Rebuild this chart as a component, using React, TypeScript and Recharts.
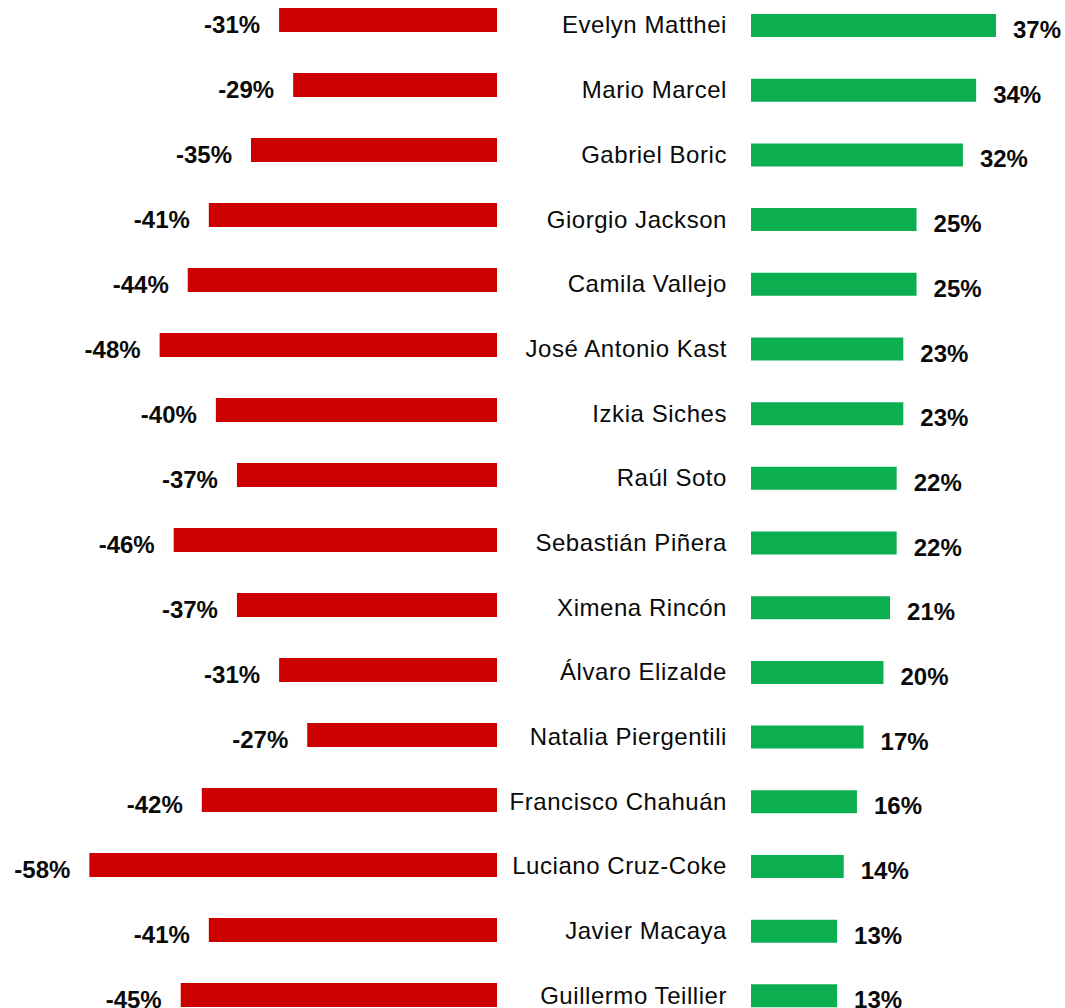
import React from "react";
import { BarChart, Bar, XAxis, YAxis, LabelList } from "recharts";

const names = [
  "Evelyn Matthei",
  "Mario Marcel",
  "Gabriel Boric",
  "Giorgio Jackson",
  "Camila Vallejo",
  "José Antonio Kast",
  "Izkia Siches",
  "Raúl Soto",
  "Sebastián Piñera",
  "Ximena Rincón",
  "Álvaro Elizalde",
  "Natalia Piergentili",
  "Francisco Chahuán",
  "Luciano Cruz-Coke",
  "Javier Macaya",
  "Guillermo Teillier",
];
const negativeValues = [-31, -29, -35, -41, -44, -48, -40, -37, -46, -37, -31, -27, -42, -58, -41, -45];
const positiveValues = [37, 34, 32, 25, 25, 23, 23, 22, 22, 21, 20, 17, 16, 14, 13, 13];

const leftData = names.map((name, i) => ({ name, value: negativeValues[i] }));
const rightData = names.map((name, i) => ({ name, value: positiveValues[i] }));

const FONT = "'Liberation Sans', Arial, Helvetica, sans-serif";

function getBox(props: any) {
  const vb = props.viewBox || {};
  const x = typeof props.x === "number" ? props.x : vb.x;
  const y = typeof props.y === "number" ? props.y : vb.y;
  const width = typeof props.width === "number" ? props.width : vb.width;
  const height = typeof props.height === "number" ? props.height : vb.height;
  return { x: Number(x), y: Number(y), width: Number(width), height: Number(height) };
}

const RedLabel = (props: any) => {
  const { x, y, width, height } = getBox(props);
  const left = Math.min(x, x + width);
  const cy = y + height / 2;
  return (
    <text
      x={left - 19}
      y={cy + 12.5}
      textAnchor="end"
      fontFamily={FONT}
      fontWeight="bold"
      fontSize={24}
      fill="#0a0a0a"
    >
      {`${props.value}%`}
    </text>
  );
};

const GreenLabel = (props: any) => {
  const { x, y, width, height } = getBox(props);
  const right = Math.max(x, x + width);
  const cy = y + height / 2;
  return (
    <text
      x={right + 17}
      y={cy + 12.6}
      textAnchor="start"
      fontFamily={FONT}
      fontWeight="bold"
      fontSize={24}
      fill="#0a0a0a"
    >
      {`${props.value}%`}
    </text>
  );
};

const NameTick = (props: any) => {
  const { x, y, payload } = props;
  return (
    <text
      x={x}
      y={y + 8.1}
      textAnchor="end"
      fontFamily={FONT}
      fontSize={24}
      letterSpacing={0.55}
      fill="#0a0a0a"
    >
      {payload.value}
    </text>
  );
};

export default function App() {
  return (
    <div
      style={{
        position: "absolute",
        left: 0,
        top: 0,
        width: 1065,
        height: 1008,
        overflow: "hidden",
        background: "#fff",
      }}
    >
      <div style={{ position: "absolute", left: 0, top: -13.2 }}>
        <BarChart
          layout="vertical"
          width={497}
          height={1040}
          data={leftData}
          margin={{ top: 0, right: 0, bottom: 0, left: 5 }}
        >
          <XAxis type="number" hide domain={[-70, 0]} />
          <YAxis type="category" dataKey="name" hide />
          <Bar dataKey="value" fill="#CC0000" barSize={24} isAnimationActive={false}>
            <LabelList dataKey="value" content={RedLabel} />
          </Bar>
        </BarChart>
      </div>
      <div style={{ position: "absolute", left: 500, top: -6.84 }}>
        <BarChart
          layout="vertical"
          width={565}
          height={1035}
          data={rightData}
          margin={{ top: 0, right: 16, bottom: 0, left: 0 }}
        >
          <XAxis type="number" hide domain={[0, 45]} />
          <YAxis
            type="category"
            dataKey="name"
            width={251}
            tickLine={false}
            axisLine={false}
            tickSize={0}
            tickMargin={24}
            interval={0}
            tick={NameTick}
          />
          <Bar dataKey="value" fill="#0BAF4F" barSize={23} isAnimationActive={false}>
            <LabelList dataKey="value" content={GreenLabel} />
          </Bar>
        </BarChart>
      </div>
    </div>
  );
}
